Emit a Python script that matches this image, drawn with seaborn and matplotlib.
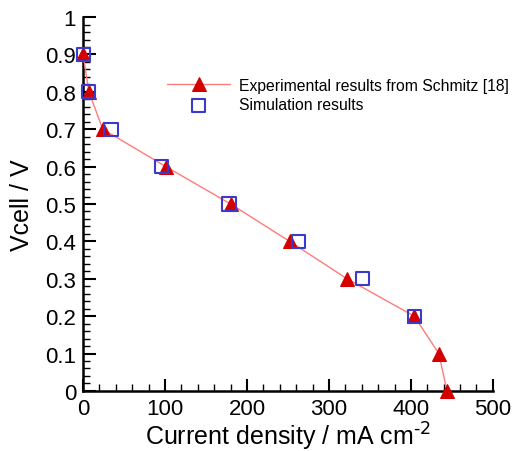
import matplotlib
matplotlib.use("Agg")
import matplotlib.pyplot as plt
from matplotlib.ticker import MultipleLocator
import pandas as pd
import seaborn as sns

# --- Data ---
exp_current = [0, 7, 24, 101, 180, 252, 322, 404, 434, 444]
exp_vcell = [0.9, 0.8, 0.7, 0.6, 0.5, 0.4, 0.3, 0.2, 0.1, 0.0]
sim_current = [0, 7, 34, 96, 178, 263, 341, 404]
sim_vcell = [0.9, 0.8, 0.7, 0.6, 0.5, 0.4, 0.3, 0.2]
y_ticks = [0, 0.1, 0.2, 0.3, 0.4, 0.5, 0.6, 0.7, 0.8, 0.9, 1.0]
y_tick_labels = ["0", "0.1", "0.2", "0.3", "0.4", "0.5", "0.6", "0.7",
                 "0.8", "0.9", "1"]
x_ticks = [0, 100, 200, 300, 400, 500]

df_exp = pd.DataFrame({"current": exp_current, "vcell": exp_vcell})
df_sim = pd.DataFrame({"current": sim_current, "vcell": sim_vcell})

sns.set_style("ticks")
plt.rcParams["font.family"] = ["Liberation Sans", "DejaVu Sans"]
plt.rcParams["mathtext.default"] = "regular"
plt.rcParams["text.color"] = "black"
plt.rcParams["axes.labelcolor"] = "black"
plt.rcParams["xtick.color"] = "black"
plt.rcParams["ytick.color"] = "black"

fig, ax = plt.subplots(figsize=(5.26, 4.52), dpi=100)
fig.subplots_adjust(left=0.158, right=0.937, bottom=0.133, top=0.960)

sns.lineplot(
    data=df_exp, x="current", y="vcell", ax=ax, sort=False,
    color="#ff7b7b", linewidth=1.0, marker="^", markersize=10,
    markerfacecolor="#d40000", markeredgecolor="#d40000",
    label="Experimental results from Schmitz [18]", zorder=3, clip_on=False,
)
sns.scatterplot(
    data=df_sim, x="current", y="vcell", ax=ax,
    marker="s", s=90, facecolor="none", edgecolor="#3a3acc",
    linewidth=1.5, label="Simulation results", zorder=4, clip_on=False,
)

ax.set_xlim(0, 500)
ax.set_ylim(0, 1)
ax.set_xticks(x_ticks)
ax.set_yticks(y_ticks, y_tick_labels)
ax.xaxis.set_minor_locator(MultipleLocator(20))
ax.yaxis.set_minor_locator(MultipleLocator(0.02))
ax.tick_params(which="major", direction="in", length=9, width=1.5,
               labelsize=16, pad=5)
ax.tick_params(which="minor", direction="in", length=5, width=1.0)

for side in ["top", "right"]:
    ax.spines[side].set_visible(False)
for side in ["left", "bottom"]:
    ax.spines[side].set_linewidth(1.8)
    ax.spines[side].set_color("black")

ax.set_xlabel("Current density / mA cm$^{\\text{-2}}$", fontsize=18,
              labelpad=1)
ax.set_ylabel("Vcell / V", fontsize=18, labelpad=8)

ax.legend(loc="upper left", bbox_to_anchor=(0.19, 0.855), frameon=False,
          fontsize=11.3, handlelength=4.0, handletextpad=0.6,
          labelspacing=0.3, borderaxespad=0)

fig.savefig("out.png", dpi=100)
